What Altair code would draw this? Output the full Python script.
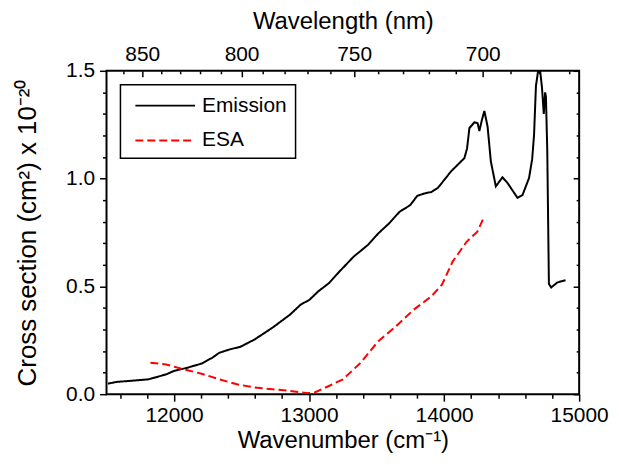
import altair as alt
import pandas as pd

# ---- data ----
emission_wn = [11510, 11576, 11680, 11812, 11942, 12000, 12100, 12204, 12283, 12335,
               12414, 12492, 12597, 12728, 12859, 12937, 13003, 13068, 13147, 13225,
               13330, 13435, 13513, 13592, 13670, 13749, 13801, 13853, 13906, 13954,
               14052, 14150, 14170, 14187, 14224, 14248, 14261, 14280, 14298, 14322,
               14346, 14383, 14432, 14469, 14543, 14580, 14629, 14652, 14666, 14680,
               14695, 14712, 14725, 14738, 14748, 14754, 14764, 14776, 14793, 14838,
               14899]
emission_cs = [0.049, 0.057, 0.062, 0.069, 0.092, 0.108, 0.123, 0.142, 0.169, 0.192,
               0.208, 0.220, 0.254, 0.308, 0.369, 0.415, 0.438, 0.477, 0.515, 0.569,
               0.638, 0.692, 0.746, 0.792, 0.846, 0.877, 0.920, 0.931, 0.938, 0.957,
               1.034, 1.095, 1.140, 1.234, 1.261, 1.257, 1.221, 1.272, 1.314, 1.241,
               1.080, 0.964, 1.006, 0.980, 0.911, 0.923, 1.003, 1.090, 1.203, 1.430,
               1.495, 1.495, 1.420, 1.300, 1.400, 1.380, 1.126, 0.511, 0.495, 0.518,
               0.529]

esa_wn = [11825, 11942, 12073, 12204, 12335, 12466, 12597, 12728, 12859, 12990,
          13042, 13147, 13251, 13382, 13513, 13644, 13775, 13906, 13984, 14063,
          14168, 14246, 14291]
esa_cs = [0.146, 0.138, 0.115, 0.095, 0.069, 0.046, 0.031, 0.023, 0.015, 0.005,
          0.008, 0.038, 0.069, 0.146, 0.246, 0.315, 0.392, 0.454, 0.508, 0.615,
          0.708, 0.754, 0.815]

series_names = ["Emission", "ESA"]
series_colors = ["black", "red"]

wn_major = [12000, 13000, 14000, 15000]
wn_minor = [11600, 11800, 12200, 12400, 12600, 12800, 13200, 13400, 13600, 13800,
            14200, 14400, 14600, 14800]
cs_major = [0.0, 0.5, 1.0, 1.5]
cs_minor = [0.1, 0.2, 0.3, 0.4, 0.6, 0.7, 0.8, 0.9, 1.1, 1.2, 1.3, 1.4]
nm_major = [850, 800, 750, 700]
nm_minor = [860, 840, 830, 820, 810, 790, 780, 770, 760, 740, 730, 720, 710,
            690, 680, 670]

df = pd.concat([
    pd.DataFrame({"wn": emission_wn, "cs": emission_cs, "series": "Emission"}),
    pd.DataFrame({"wn": esa_wn, "cs": esa_cs, "series": "ESA"}),
], ignore_index=True)

FONT = "Liberation Sans"
LBL = 21
TTL = 24

xscale = alt.Scale(domain=[11500, 15000], nice=False, zero=False)
yscale = alt.Scale(domain=[0, 1.5], nice=False)

common = dict(grid=False, domain=False, tickColor="black", tickWidth=1.5,
              labelColor="black", labelFont=FONT, labelFontSize=LBL,
              titleFont=FONT, titleFontSize=TTL, titleFontWeight="normal",
              titleColor="black", labelFlush=False, labelOverlap=False)

ax_bottom_major = alt.Axis(orient="bottom", values=wn_major, format="d", tickSize=7,
                           labelPadding=3, title="Wavenumber (cm⁻¹)", titlePadding=4,
                           **common)
ax_bottom_minor = alt.Axis(orient="bottom", values=wn_minor, tickSize=4, labels=False,
                           title=None, **common)
ax_top_major = alt.Axis(orient="top", values=[1e7 / w for w in nm_major],
                        labelExpr="format(1e7 / datum.value, '.0f')",
                        offset=-6, tickSize=6, labelPadding=6,
                        title="Wavelength (nm)", titlePadding=11, **common)
ax_top_minor = alt.Axis(orient="top", values=[1e7 / w for w in nm_minor],
                        offset=-3, tickSize=3, labels=False, title=None, **common)

left_common = dict(common)
left_common["titleFontSize"] = 26
ax_left_major = alt.Axis(orient="left", values=cs_major, format=".1f", tickSize=7,
                         labelPadding=5, title="Cross section (cm²) x 10⁻²⁰",
                         titlePadding=25, **left_common)
ax_left_minor = alt.Axis(orient="left", values=cs_minor, tickSize=4, labels=False,
                         title=None, **common)
ax_right_major = alt.Axis(orient="right", values=cs_major, offset=-6, tickSize=6,
                          labels=False, title=None, **common)
ax_right_minor = alt.Axis(orient="right", values=cs_minor, offset=-3, tickSize=3,
                          labels=False, title=None, **common)

lines = alt.Chart(df).mark_line(strokeWidth=2).encode(
    x=alt.X("wn:Q", scale=xscale, axis=ax_bottom_major),
    y=alt.Y("cs:Q", scale=yscale, axis=ax_left_major),
    color=alt.Color("series:N",
                    scale=alt.Scale(domain=series_names, range=series_colors),
                    legend=alt.Legend(title=None)),
    strokeDash=alt.StrokeDash("series:N",
                              scale=alt.Scale(domain=series_names,
                                              range=[[1, 0], [8, 4]]),
                              legend=alt.Legend(title=None)),
)


def ghost(xax, yax):
    return alt.Chart(df).mark_line(opacity=0).encode(
        x=alt.X("wn:Q", scale=xscale, axis=xax),
        y=alt.Y("cs:Q", scale=yscale, axis=yax),
        detail="series:N",
    )


chart = alt.layer(
    lines,
    ghost(ax_bottom_minor, ax_left_minor),
    ghost(ax_top_major, ax_right_major),
    ghost(ax_top_minor, ax_right_minor),
).resolve_axis(x="independent", y="independent").properties(
    width=475, height=325,
    autosize=alt.AutoSizeParams(type="none"),
    padding={"left": 99, "top": 62, "right": 32, "bottom": 60},
).configure_view(
    stroke="black", strokeWidth=2
).configure_legend(
    orient="none", legendX=14, legendY=14,
    strokeColor="black", fillColor="white", strokeWidth=1.5,
    padding=8, labelFont=FONT, labelFontSize=21, labelColor="black",
    symbolType="M-0.5,0H4.5", symbolSize=576, symbolStrokeWidth=2,
    symbolFillColor="transparent",
    rowPadding=12, labelOffset=48, cornerRadius=0,
)

chart.save("out.html", embed_options={"renderer": "svg", "actions": False})
